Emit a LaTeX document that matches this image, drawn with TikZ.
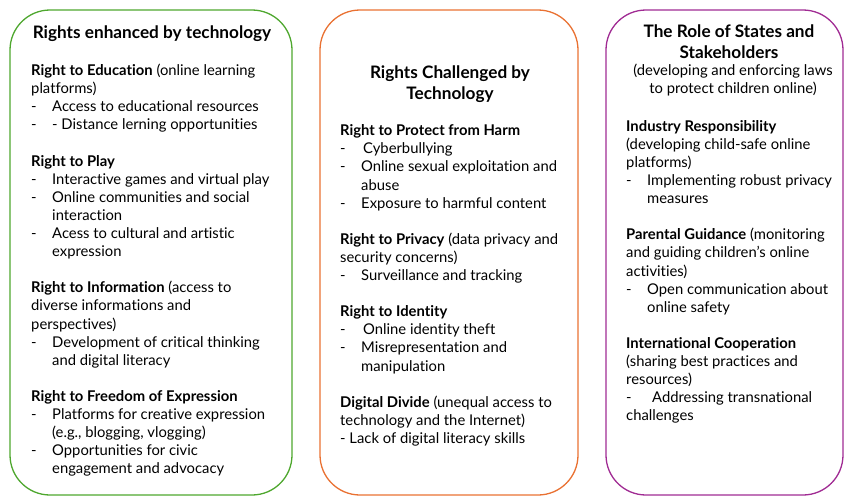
\documentclass[tikz,border=0pt]{standalone}
\usepackage{fontspec}
\setmainfont{Lato}[Ligatures=TeX,RawFeature={-liga;-clig;-calt;-dlig}]
\usepackage{xcolor}
\usepackage{tikz}
\usetikzlibrary{positioning}
\definecolor{enhgreen}{HTML}{4EA72E}
\definecolor{challorange}{HTML}{E97132}
\definecolor{rolepurple}{HTML}{A02B93}
\newcommand{\dashitem}[1]{\makebox[21pt][l]{-}#1}
\newcommand{\cont}{\hspace*{21pt}}
\begin{document}
\begin{tikzpicture}[x=1pt,y=-1pt,panel/.style={draw=#1,line width=1.3pt,rounded corners=40pt,inner sep=0pt},head/.style={font=\fontsize{17.2}{20.8}\selectfont\bfseries,align=center,inner sep=0pt,text=black},body/.style={font=\fontsize{14.8}{18.1}\selectfont,align=left,anchor=north west,inner sep=0pt,text=black}]
                \useasboundingbox (0,0) rectangle (844,496);
                \clip (0,0) rectangle (844,496);
                \node[panel=enhgreen,minimum width=282pt,minimum height=485pt] (enhbox) at (151,252.5) {};
                \node[panel=challorange,minimum width=258pt,minimum height=485pt] (challbox) at (449,252.5) {};
                \node[panel=rolepurple,minimum width=237pt,minimum height=485pt] (rolebox) at (724.5,252.5) {};
                \node[head] (enhhead) at (152,34) {Rights enhanced by technology};
                \node[head] (challhead) at (450,84) {Rights Challenged by\\Technology};
                \node[head] (rolehead) at (729,42) {The Role of States and\\Stakeholders};
                \node[body,anchor=north,align=center] (rolesub) at (733,64) {(developing and enforcing laws\\to protect children online)};
                \node[body] (enhtxt) at (31,64) {\textbf{Right to Education} (online learning\\
                    platforms)\\
                    \dashitem{Access to educational resources}\\
                    \dashitem{- Distance lerning opportunities}\\[18.1pt]
                    \textbf{Right to Play}\\
                    \dashitem{Interactive games and virtual play}\\
                    \dashitem{Online communities and social}\\
                    \cont interaction\\
                    \dashitem{Acess to cultural and artistic}\\
                    \cont expression\\[18.1pt]
                    \textbf{Right to Information} (access to\\
                    diverse informations and\\
                    perspectives)\\
                    \dashitem{Development of critical thinking}\\
                    \cont and digital literacy\\[18.1pt]
                    \textbf{Right to Freedom of Expression}\\
                    \dashitem{Platforms for creative expression}\\
                    \cont (e.g., blogging, vlogging)\\
                    \dashitem{Opportunities for civic}\\
                    \cont engagement and advocacy};
                \node[body] (challtxt) at (340,124.5) {\textbf{Right to Protect from Harm}\\
                    \dashitem{\hspace{2pt}Cyberbullying}\\
                    \dashitem{Online sexual exploitation and}\\
                    \cont abuse\\
                    \dashitem{Exposure to harmful content}\\[18.1pt]
                    \textbf{Right to Privacy} (data privacy and\\
                    security concerns)\\
                    \dashitem{Surveillance and tracking}\\[18.1pt]
                    \textbf{Right to Identity}\\
                    \dashitem{\hspace{2pt}Online identity theft}\\
                    \dashitem{Misrepresentation and}\\
                    \cont manipulation\\[18.1pt]
                    \textbf{Digital Divide} (unequal access to\\
                    technology and the Internet)\\
                    - Lack of digital literacy skills};
                \node[body] (roletxt) at (626,120) {\textbf{Industry Responsibility}\\
                    (developing child-safe online\\
                    platforms)\\
                    \dashitem{Implementing robust privacy}\\
                    \cont measures\\[18.1pt]
                    \textbf{Parental Guidance} (monitoring\\
                    and guiding children's online\\
                    activities)\\
                    \dashitem{Open communication about}\\
                    \cont online safety\\[18.1pt]
                    \textbf{International Cooperation}\\
                    (sharing best practices and\\
                    resources)\\
                    \dashitem{\hspace{5pt}Addressing transnational}\\
                    challenges};
\end{tikzpicture}
\end{document}
